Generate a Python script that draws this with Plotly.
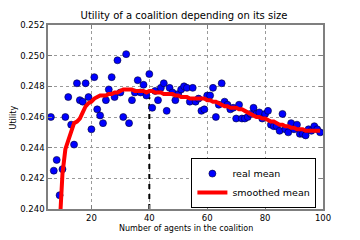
import plotly.graph_objects as go

# ---- data ----
agents = list(range(6, 100))
real_mean = [
    0.2460, 0.2425, 0.2432, 0.2409, 0.2426, 0.2460, 0.2473, 0.2455, 0.2442, 0.2482,  # 6-15
    0.2471, 0.2470, 0.2482, 0.2473, 0.2452, 0.2486, 0.2465, 0.2461, 0.2456, 0.2471,  # 16-25
    0.2478, 0.2486, 0.2473, 0.2497, 0.2476, 0.2460, 0.2501, 0.2456, 0.2471, 0.2476,  # 26-35
    0.2484, 0.2476, 0.2481, 0.2474, 0.2488, 0.2466, 0.2477, 0.2471, 0.2479, 0.2482,  # 36-45
    0.2464, 0.2479, 0.2476, 0.2471, 0.2475, 0.2478, 0.2480, 0.2479, 0.2470, 0.2479,  # 46-55
    0.2470, 0.2472, 0.2464, 0.2465, 0.2474, 0.2474, 0.2479, 0.2460, 0.2468, 0.2482,  # 56-65
    0.2470, 0.2468, 0.2465, 0.2466, 0.2459, 0.2468, 0.2459, 0.2459, 0.2460, 0.2462,  # 66-75
    0.2466, 0.2462, 0.2463, 0.2459, 0.2462, 0.2464, 0.2455, 0.2454, 0.2454, 0.2451,  # 76-85
    0.2462, 0.2452, 0.2450, 0.2456, 0.2452, 0.2455, 0.2449, 0.2449, 0.2448, 0.2452,  # 86-95
    0.2451, 0.2454, 0.2452, 0.2450,                                                  # 96-99
]

smooth_x = list(range(9, 100))
smoothed_mean = [
    0.2388, 0.2423, 0.2439, 0.2445, 0.2451, 0.2456, 0.2457, 0.2459, 0.2463, 0.2467,  # 9-18
    0.2469, 0.2470, 0.2472, 0.2473, 0.2474, 0.2474, 0.2474, 0.2475, 0.2475, 0.2476,  # 19-28
    0.2476, 0.2477, 0.2478, 0.2478, 0.2478, 0.2478, 0.2477, 0.2477, 0.2477, 0.2477,  # 29-38
    0.2476, 0.2477, 0.2477, 0.2476, 0.2476, 0.2476, 0.2475, 0.2475, 0.2475, 0.2475,  # 39-48
    0.2474, 0.2474, 0.2473, 0.2473, 0.2473, 0.2472, 0.2472, 0.2472, 0.2472, 0.2472,  # 49-58
    0.2472, 0.2471, 0.2471, 0.2470, 0.2470, 0.2469, 0.2468, 0.2467, 0.2467, 0.2466,  # 59-68
    0.2466, 0.2466, 0.2465, 0.2465, 0.2464, 0.2463, 0.2462, 0.2461, 0.2460, 0.2460,  # 69-78
    0.2459, 0.2459, 0.2458, 0.2457, 0.2457, 0.2456, 0.2455, 0.2455, 0.2454, 0.2454,  # 79-88
    0.2453, 0.2453, 0.2452, 0.2452, 0.2452, 0.2451, 0.2451, 0.2451, 0.2451, 0.2451,  # 89-98
    0.2451,                                                                          # 99
]

optimum_x = 40
optimum_y = 0.2473
y_floor = 0.240

x_ticks = [20, 40, 60, 80, 100]
y_ticks = [0.240, 0.242, 0.244, 0.246, 0.248, 0.250, 0.252]
x_range = [5, 100]
y_range = [0.240, 0.252]

title = "Utility of a coalition depending on its size"
x_title = "Number of agents in the coalition"
y_title = "Utility"

FONT = "DejaVu Sans"
W, H = 352, 232          # page body adds an 8px offset
L, T = 37, 16
PW, PH = 278, 185

fig = go.Figure()

fig.add_trace(go.Scatter(
    x=[optimum_x, optimum_x], y=[y_floor, optimum_y],
    mode="lines", line=dict(color="black", width=2, dash="5px,5px"),
    showlegend=False, hoverinfo="skip",
))

fig.add_trace(go.Scatter(
    x=agents, y=real_mean, mode="markers", name="real mean",
    marker=dict(color="#0000ff", size=7, line=dict(color="#000033", width=0.6)),
))

fig.add_trace(go.Scatter(
    x=smooth_x, y=smoothed_mean, mode="lines", name="smoothed mean",
    line=dict(color="#ff0000", width=4),
))

axis_common = dict(
    showline=True, linecolor="#7f7f7f", linewidth=1.5, mirror="ticks",
    ticks="inside", ticklen=4, tickcolor="#7f7f7f", tickwidth=1,
    showgrid=True, gridcolor="#9a9a9a", gridwidth=1, griddash="dot",
    zeroline=False, tickfont=dict(family=FONT, size=8.5, color="black"),
)

fig.update_layout(
    width=W, height=H,
    margin=dict(l=L, r=W - L - PW, t=T, b=H - T - PH),
    paper_bgcolor="white", plot_bgcolor="white",
    font=dict(family=FONT, color="black"),
    title=dict(text=title, x=(L + PW / 2) / W, xanchor="center",
               y=1 - 7.5 / H, yanchor="middle",
               font=dict(family=FONT, size=10, color="black")),
    xaxis=dict(range=x_range, tickvals=x_ticks, **axis_common),
    yaxis=dict(range=y_range, tickvals=y_ticks, tickformat=".3f", **axis_common),
    annotations=[
        dict(text=y_title, textangle=-90, xref="paper", yref="paper",
             x=(2 - L) / PW, y=0.5, xanchor="center", yanchor="middle",
             showarrow=False, font=dict(family=FONT, size=8, color="black")),
        dict(text=x_title, xref="paper", yref="paper",
             x=0.5, y=-(221 - T - PH) / PH, xanchor="center", yanchor="middle",
             showarrow=False, font=dict(family=FONT, size=8, color="black")),
    ],
    legend=dict(x=0.976, y=0.005, xanchor="right", yanchor="bottom",
                bgcolor="white", bordercolor="black", borderwidth=1,
                font=dict(family=FONT, size=9.5, color="black"),
                tracegroupgap=0, itemwidth=30),
    showlegend=True,
)

fig.write_html("out.html")
